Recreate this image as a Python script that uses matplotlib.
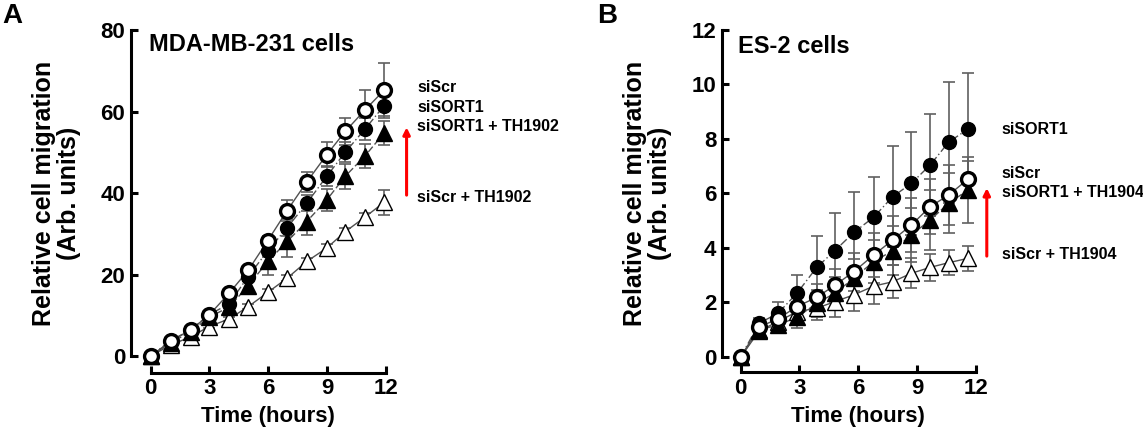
import matplotlib.pyplot as plt
import numpy as np

plt.rcParams['font.family'] = ['Liberation Sans', 'DejaVu Sans']
plt.rcParams['font.weight'] = 'bold'

# Panel A: MDA-MB-231 cells
time_a = [0, 1.02, 2.04, 2.97, 4.0, 4.97, 5.97, 6.96, 7.96, 8.98, 9.92, 10.93, 11.9]
a_siscr = [0, 3.6, 6.4, 10.0, 15.4, 21.0, 28.3, 35.7, 42.7, 49.4, 55.1, 60.4, 65.2]
a_sisort = [0, 3.8, 6.4, 10.1, 12.8, 19.5, 25.8, 31.5, 37.5, 44.1, 50.0, 55.7, 61.4]
a_sisort_th = [0, 3.3, 5.9, 9.5, 12.0, 17.2, 23.2, 28.1, 33.0, 38.3, 44.1, 49.1, 54.7]
a_siscr_th = [0, 2.7, 4.7, 7.2, 9.1, 12.1, 15.6, 19.1, 23.2, 26.5, 30.5, 34.1, 37.7]
a_siscr_err = [0, 0.3, 0.4, 0.6, 0.8, 1.0, 1.2, 2.5, 2.5, 3.0, 3.3, 5.0, 6.7]
a_sisort_err = [0, 0.3, 0.4, 0.6, 0.8, 1.0, 1.5, 2.0, 2.0, 2.5, 2.5, 2.6, 2.6]
a_sisort_th_err = [0, 0.3, 0.4, 0.6, 1.0, 1.5, 3.3, 3.9, 3.3, 2.8, 3.0, 3.0, 3.0]
a_siscr_th_err = [0, 0.2, 0.3, 0.4, 0.5, 0.6, 0.8, 0.8, 0.8, 1.0, 1.0, 1.0, 3.0]

# Panel B: ES-2 cells
time_b = [0, 0.94, 1.9, 2.87, 3.88, 4.8, 5.77, 6.78, 7.75, 8.7, 9.67, 10.6, 11.6]
b_siscr = [0, 1.1, 1.4, 1.85, 2.19, 2.63, 3.13, 3.74, 4.29, 4.84, 5.52, 5.94, 6.53]
b_sisort = [0, 1.24, 1.6, 2.34, 3.29, 3.9, 4.57, 5.13, 5.88, 6.37, 7.05, 7.88, 8.37]
b_sisort_th = [0, 1.0, 1.17, 1.46, 1.97, 2.34, 2.89, 3.5, 3.9, 4.48, 5.03, 5.64, 6.13]
b_siscr_th = [0, 0.95, 1.3, 1.66, 1.79, 2.03, 2.28, 2.6, 2.76, 3.07, 3.29, 3.46, 3.62]
b_siscr_err = [0, 0.15, 0.3, 0.4, 0.5, 0.6, 0.7, 0.8, 0.9, 1.0, 1.0, 1.1, 0.65]
b_sisort_err = [0, 0.2, 0.43, 0.67, 1.15, 1.37, 1.5, 1.46, 1.86, 1.9, 1.87, 2.22, 2.04]
b_sisort_th_err = [0, 0.2, 0.3, 0.4, 0.5, 0.6, 0.7, 0.8, 0.9, 1.0, 1.1, 1.1, 1.2]
b_siscr_th_err = [0, 0.15, 0.25, 0.35, 0.45, 0.55, 0.6, 0.66, 0.6, 0.55, 0.5, 0.45, 0.45]

styles = [  # marker, face, linestyle
    ('o', 'white', '-'),
    ('o', 'black', (0, (6, 2, 1, 2))),
    ('^', 'black', (0, (5, 2))),
    ('^', 'white', '-'),
]

fig = plt.figure(figsize=(11.43, 4.30), dpi=100)
ax_a = fig.add_axes([0.1318, 0.1721, 0.2059, 0.7581])
ax_b = fig.add_axes([0.6480, 0.1698, 0.2059, 0.7605])


def draw(ax, t, series, errs, ymax, ystep, outx, outy):
    order = [3, 2, 1, 0]
    for i in order:
        m, fc, ls = styles[i]
        ax.errorbar(t, series[i], yerr=errs[i], fmt='none', ecolor='#606060',
                    elinewidth=1.2, capsize=4, capthick=1.2, clip_on=False, zorder=2)
        ax.plot(t, series[i], color='#505050', lw=1.0, ls=ls, clip_on=False, zorder=3)
        ms = 10 if m == 'o' else 11
        mew = 2.4 if (m == 'o' and fc == 'white') else 1.0
        ax.plot(t, series[i], ls='none', marker=m, ms=ms, mfc=fc, mec='black',
                mew=mew, clip_on=False, zorder=4 + (3 - i))
    ax.set_xlim(0, 12)
    ax.set_ylim(0, ymax)
    ax.set_xticks([0, 3, 6, 9, 12])
    ax.set_yticks(np.arange(0, ymax + 1, ystep))
    for s in ['top', 'right']:
        ax.spines[s].set_visible(False)
    ax.spines['left'].set_position(('outward', outx))
    ax.spines['bottom'].set_position(('outward', outy))
    ax.spines['left'].set_linewidth(2.2)
    ax.spines['bottom'].set_linewidth(2.2)
    ax.tick_params(direction='in', length=5, width=2.2, labelsize=16, pad=4)
    for lab in ax.get_xticklabels() + ax.get_yticklabels():
        lab.set_fontweight('bold')
    ax.set_xlabel('Time (hours)', fontsize=16, fontweight='bold', labelpad=5)
    ax.set_ylabel('Relative cell migration\n(Arb. units)', fontsize=18,
                  fontweight='bold', labelpad=14, linespacing=1.05)


draw(ax_a, time_a, [a_siscr, a_sisort, a_sisort_th, a_siscr_th],
     [a_siscr_err, a_sisort_err, a_sisort_th_err, a_siscr_th_err], 80, 20, 14.4, 12)
draw(ax_b, time_b, [b_siscr, b_sisort, b_sisort_th, b_siscr_th],
     [b_siscr_err, b_sisort_err, b_sisort_th_err, b_siscr_th_err], 12, 2, 13.5, 11)

ax_a.text(-0.1, 76.4, 'MDA-MB-231 cells', fontsize=17, fontweight='bold', va='center')
ax_b.text(-0.15, 11.4, 'ES-2 cells', fontsize=17, fontweight='bold', va='center')

fig.text(0.002, 0.962, 'A', fontsize=20, fontweight='bold', va='center')
fig.text(0.522, 0.962, 'B', fontsize=20, fontweight='bold', va='center')

labels_a = ['siScr', 'siSORT1', 'siSORT1 + TH1902', 'siScr + TH1902']
labels_a_y = [66, 61, 56.2, 38.9]
for lab, y in zip(labels_a, labels_a_y):
    ax_a.text(13.6, y, lab, fontsize=11.5, fontweight='bold', va='center', clip_on=False)
ax_a.annotate('', xy=(13.05, 56.8), xytext=(13.05, 38.8), annotation_clip=False,
              arrowprops=dict(arrowstyle='-|>', color='red', lw=2.2, mutation_scale=10))

labels_b = ['siSORT1', 'siScr', 'siSORT1 + TH1904', 'siScr + TH1904']
labels_b_y = [8.35, 6.75, 6.05, 3.75]
for lab, y in zip(labels_b, labels_b_y):
    ax_b.text(13.3, y, lab, fontsize=11.5, fontweight='bold', va='center', clip_on=False)
ax_b.annotate('', xy=(12.55, 6.3), xytext=(12.55, 3.6), annotation_clip=False,
              arrowprops=dict(arrowstyle='-|>', color='red', lw=2.2, mutation_scale=10))

fig.savefig('out.png', dpi=100)
